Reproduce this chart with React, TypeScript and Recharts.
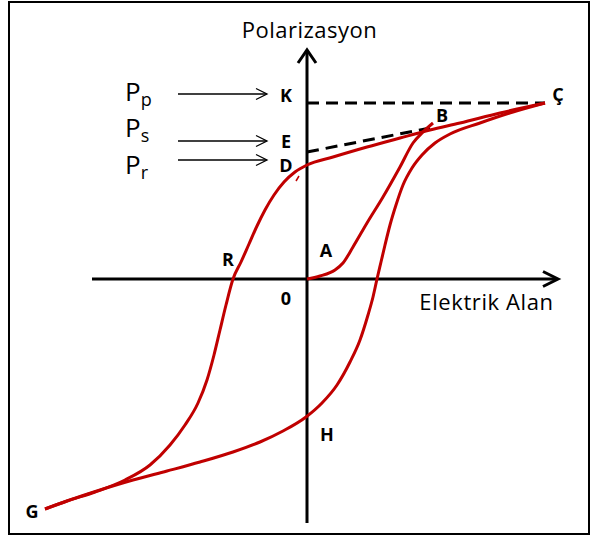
import React from 'react';
import { ComposedChart, Line, XAxis, YAxis, ReferenceLine, ReferenceDot } from 'recharts';

// Hysteresis loop of a ferroelectric: field on x, polarization on y (arbitrary units)
// Upper (decreasing-field) branch, listed from G to Ç
const upperBranch = [
  { x: -10.48, y: -9.2 }, { x: -9.6, y: -8.88 }, { x: -8.48, y: -8.52 }, { x: -7.28, y: -8.04 },
  { x: -6.28, y: -7.44 }, { x: -5.48, y: -6.64 }, { x: -4.88, y: -5.84 }, { x: -4.36, y: -4.96 },
  { x: -4.0, y: -4.04 }, { x: -3.72, y: -3.04 }, { x: -3.48, y: -2.04 }, { x: -3.24, y: -1.04 },
  { x: -2.96, y: 0 }, { x: -2.64, y: 0.68 }, { x: -2.32, y: 1.4 }, { x: -2.0, y: 2.12 },
  { x: -1.68, y: 2.76 }, { x: -1.32, y: 3.36 }, { x: -0.92, y: 3.88 }, { x: -0.48, y: 4.28 },
  { x: 0, y: 4.56 }, { x: 1.04, y: 4.88 }, { x: 2.4, y: 5.28 }, { x: 3.72, y: 5.64 },
  { x: 4.92, y: 5.96 }, { x: 6.12, y: 6.24 }, { x: 7.72, y: 6.64 }, { x: 9.52, y: 7.04 },
];

// Lower (increasing-field) branch, from G through H to Ç
const lowerBranch = [
  { x: -10.48, y: -9.2 }, { x: -9.6, y: -8.88 }, { x: -8.28, y: -8.44 }, { x: -6.96, y: -8.04 },
  { x: -5.6, y: -7.68 }, { x: -4.28, y: -7.32 }, { x: -2.96, y: -6.92 }, { x: -1.88, y: -6.52 },
  { x: -0.96, y: -6.08 }, { x: -0.04, y: -5.52 }, { x: 0.6, y: -4.96 }, { x: 1.2, y: -4.24 },
  { x: 1.72, y: -3.32 }, { x: 2.12, y: -2.44 }, { x: 2.44, y: -1.44 }, { x: 2.64, y: -0.72 },
  { x: 2.8, y: 0 }, { x: 2.96, y: 0.68 }, { x: 3.12, y: 1.36 }, { x: 3.32, y: 2.16 },
  { x: 3.56, y: 2.96 }, { x: 3.84, y: 3.76 }, { x: 4.2, y: 4.44 }, { x: 4.6, y: 4.96 },
  { x: 5.12, y: 5.44 }, { x: 5.72, y: 5.8 }, { x: 6.92, y: 6.24 }, { x: 8.24, y: 6.68 },
  { x: 9.52, y: 7.04 },
];

// Initial polarization curve O → A → B
const virginCurve = [
  { x: 0, y: 0 }, { x: 0.52, y: 0.12 }, { x: 1.12, y: 0.36 }, { x: 1.44, y: 0.64 },
  { x: 1.84, y: 1.28 }, { x: 2.4, y: 2.24 }, { x: 3.04, y: 3.28 }, { x: 3.72, y: 4.48 },
  { x: 4.24, y: 5.44 }, { x: 4.64, y: 5.88 }, { x: 5.04, y: 6.24 },
];

// Short red stroke just below D
const penMark = [{ x: -0.44, y: 3.92 }, { x: -0.32, y: 4.12 }];

// Named points on the loop
const pointLabels = [
  { name: 'K', x: -0.84, y: 7.34 },
  { name: 'E', x: -0.84, y: 5.48 },
  { name: 'D', x: -0.84, y: 4.54 },
  { name: 'A', x: 0.76, y: 1.12 },
  { name: 'R', x: -3.16, y: 0.78 },
  { name: '0', x: -0.84, y: -0.8 },
  { name: 'H', x: 0.8, y: -6.24 },
  { name: 'G', x: -11.0, y: -9.32 },
  { name: 'B', x: 5.4, y: 6.52 },
  { name: 'Ç', x: 10.04, y: 7.36 },
];

// Polarization symbols: P with subscript, pointing at K, E, D
const polarizationLabels = [
  { sub: 'p', x: -7.28, y: 7.5, arrowY: 7.4 },
  { sub: 's', x: -7.28, y: 6.06, arrowY: 5.52 },
  { sub: 'r', x: -7.28, y: 4.58, arrowY: 4.76 },
];
const arrowFromX = -5.16;
const arrowToX = -1.6;

const saturationLevel = [{ x: 0, y: 7.04 }, { x: 9.52, y: 7.04 }];
const saturationTangent = [{ x: 0, y: 5.08 }, { x: 4.92, y: 6.04 }];

const xAxisLine = [{ x: -8.6, y: 0 }, { x: 10.04, y: 0 }];
const yAxisLine = [{ x: 0, y: -9.76 }, { x: 0, y: 9.16 }];

const xTitle = { text: 'Elektrik Alan', x: 7.18, y: -0.94 };
const yTitle = { text: 'Polarizasyon', x: 0.1, y: 9.94 };

const RED = '#c00000';
const FONT = '"Open Sans", sans-serif';

const arrowShape = (len: number, half: number, width: number) => (props: any) => {
  const x1 = Number(props.x1), y1 = Number(props.y1), x2 = Number(props.x2), y2 = Number(props.y2);
  const dx = x2 - x1, dy = y2 - y1;
  const L = Math.hypot(dx, dy) || 1;
  const ux = dx / L, uy = dy / L;
  const px = -uy, py = ux;
  const bx = x2 - ux * len, by = y2 - uy * len;
  return (
    <g>
      <line x1={x1} y1={y1} x2={x2 - ux * width * 0.5} y2={y2 - uy * width * 0.5} stroke="#000" strokeWidth={width} />
      <polyline
        points={`${bx + px * half},${by + py * half} ${x2},${y2} ${bx - px * half},${by - py * half}`}
        fill="none"
        stroke="#000"
        strokeWidth={width}
        strokeLinejoin="miter"
      />
    </g>
  );
};

const textShape = (
  content: React.ReactNode,
  anchor: string,
  size: number,
  weight: string | number,
  spacing = 0
) => (props: any) => (
  <text
    x={props.cx}
    y={props.cy}
    dy="0.36em"
    textAnchor={anchor}
    fontFamily={FONT}
    fontSize={size}
    fontWeight={weight}
    letterSpacing={spacing}
    fill="#000"
  >
    {content}
  </text>
);

const curveProps = {
  type: 'monotone' as const,
  dot: false,
  stroke: RED,
  strokeWidth: 3,
  isAnimationActive: false,
};

export default function App() {
  return (
    <div style={{ position: 'absolute', left: 0, top: 0, width: 591, height: 537, background: '#fff' }}>
      <ComposedChart width={591} height={537} margin={{ top: 4, right: 9, bottom: 8, left: 7 }}>
        <XAxis type="number" dataKey="x" domain={[-12, 11]} hide allowDataOverflow />
        <YAxis type="number" dataKey="y" domain={[-10, 11]} hide allowDataOverflow />

        <ReferenceLine segment={xAxisLine} ifOverflow="visible" shape={arrowShape(15, 7.5, 3)} />
        <ReferenceLine segment={yAxisLine} ifOverflow="visible" shape={arrowShape(13, 9, 3)} />

        <ReferenceLine segment={saturationLevel} stroke="#000" strokeWidth={3} strokeDasharray="12 7" ifOverflow="visible" />
        <ReferenceLine segment={saturationTangent} stroke="#000" strokeWidth={3} strokeDasharray="12 7" ifOverflow="visible" />

        {polarizationLabels.map((p) => (
          <ReferenceLine
            key={`arr-${p.sub}`}
            segment={[{ x: arrowFromX, y: p.arrowY }, { x: arrowToX, y: p.arrowY }]}
            ifOverflow="visible"
            shape={arrowShape(11, 5.5, 1.3)}
          />
        ))}

        <Line data={upperBranch} dataKey="y" {...curveProps} />
        <Line data={lowerBranch} dataKey="y" {...curveProps} />
        <Line data={virginCurve} dataKey="y" {...curveProps} />
        <ReferenceLine segment={penMark} stroke={RED} strokeWidth={1.5} ifOverflow="visible" />

        {pointLabels.map((p) => (
          <ReferenceDot
            key={`pt-${p.name}`}
            x={p.x}
            y={p.y}
            r={0}
            ifOverflow="visible"
            shape={textShape(p.name, 'middle', 18, 700)}
          />
        ))}

        {polarizationLabels.map((p) => (
          <ReferenceDot
            key={`pl-${p.sub}`}
            x={p.x}
            y={p.y}
            r={0}
            ifOverflow="visible"
            shape={textShape(
              <>
                <tspan>P</tspan>
                <tspan fontSize={18} dy="0.28em">{p.sub}</tspan>
              </>,
              'start',
              26,
              400
            )}
          />
        ))}

        <ReferenceDot x={yTitle.x} y={yTitle.y} r={0} ifOverflow="visible" shape={textShape(yTitle.text, 'middle', 22, 400, 0.5)} />
        <ReferenceDot x={xTitle.x} y={xTitle.y} r={0} ifOverflow="visible" shape={textShape(xTitle.text, 'middle', 22, 400, 0.6)} />
      </ComposedChart>
      <div
        style={{
          position: 'absolute',
          left: 8,
          top: 1,
          width: 582,
          height: 534,
          boxSizing: 'border-box',
          border: '2px solid #000',
          pointerEvents: 'none',
        }}
      />
    </div>
  );
}
